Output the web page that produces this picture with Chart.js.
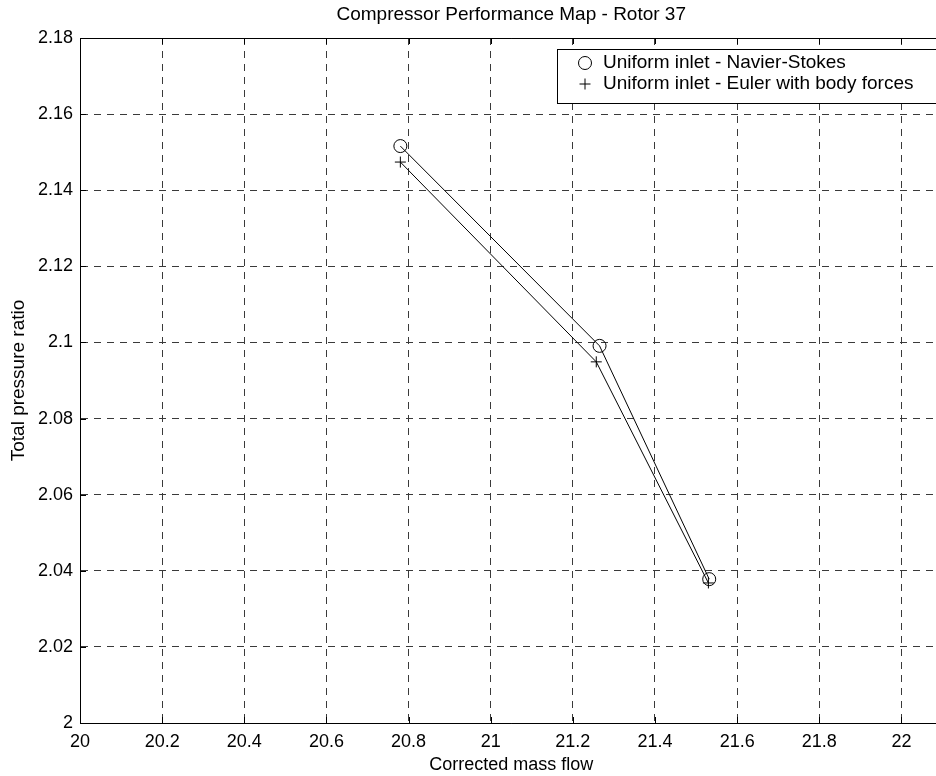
<!DOCTYPE html>
<html lang="en">
<head>
<meta charset="UTF-8">
<title>Compressor Performance Map - Rotor 37</title>
<script src="https://cdn.jsdelivr.net/npm/chart.js"></script>
<style>
  html, body { margin:0; padding:0; background:#fff; overflow:hidden; }
  #wrap { width:950px; height:776px; }
</style>
</head>
<body>
<div id="wrap"><canvas id="perf-map" width="950" height="776"></canvas></div>
<script>
// data
const nsFlow = [20.78, 21.265, 21.532];
const nsPressure = [2.1516, 2.0991, 2.0378];
const eulerFlow = [20.78, 21.257, 21.53];
const eulerPressure = [2.1474, 2.0949, 2.0368];

const xTicks = [20, 20.2, 20.4, 20.6, 20.8, 21, 21.2, 21.4, 21.6, 21.8, 22];
const yTicks = [2, 2.02, 2.04, 2.06, 2.08, 2.1, 2.12, 2.14, 2.16, 2.18];

const FONT = 'Liberation Sans, Arial, Helvetica, sans-serif';

// title, top border, inward ticks and the boxed legend
const frame = {
    id: 'frame',
    afterDraw(chart) {
        const { ctx, chartArea: a, scales } = chart;
        ctx.save();
        ctx.fillStyle = '#000';
        ctx.font = '19px ' + FONT;
        ctx.textAlign = 'center';
        ctx.textBaseline = 'middle';
        ctx.fillText('Compressor Performance Map - Rotor 37', (a.left + a.right) / 2, 15);

        ctx.strokeStyle = '#000';
        ctx.lineWidth = 1;
        ctx.beginPath();
        ctx.moveTo(a.left, a.top + 0.5);
        ctx.lineTo(a.right, a.top + 0.5);
        const t = 6;
        xTicks.forEach(v => {
            const x = Math.round(scales.x.getPixelForValue(v)) + 0.5;
            ctx.moveTo(x, a.bottom); ctx.lineTo(x, a.bottom - t);
            ctx.moveTo(x, a.top); ctx.lineTo(x, a.top + t);
        });
        yTicks.forEach(v => {
            const y = Math.round(scales.y.getPixelForValue(v)) + 0.5;
            ctx.moveTo(a.left, y); ctx.lineTo(a.left + t, y);
        });
        ctx.stroke();

        // legend
        const lx = 557, ly = 49, lh = 54;
        ctx.fillStyle = '#fff';
        ctx.fillRect(lx, ly, a.right - 4 - lx, lh);
        ctx.strokeRect(lx + 0.5, ly + 0.5, a.right - 4 - lx, lh);
        ctx.fillStyle = '#000';
        ctx.font = '19px ' + FONT;
        ctx.textAlign = 'left';
        const rows = [63, 84];
        chart.data.datasets.forEach((ds, i) => {
            const y = rows[i], mx = 585;
            ctx.beginPath();
            if (ds.pointStyle === 'circle') {
                ctx.arc(mx, y, ds.pointRadius, 0, Math.PI * 2);
            } else {
                ctx.moveTo(mx - ds.pointRadius, y); ctx.lineTo(mx + ds.pointRadius, y);
                ctx.moveTo(mx, y - ds.pointRadius); ctx.lineTo(mx, y + ds.pointRadius);
            }
            ctx.stroke();
            ctx.fillText(ds.label, 603, y);
        });
        ctx.restore();
    }
};

new Chart(document.getElementById('perf-map'), {
    type: 'scatter',
    data: {
        datasets: [
            {
                label: 'Uniform inlet - Navier-Stokes',
                data: nsFlow.map((x, i) => ({ x, y: nsPressure[i] })),
                showLine: true,
                borderColor: '#000',
                borderWidth: 1,
                pointStyle: 'circle',
                pointRadius: 6.5,
                pointBorderColor: '#000',
                pointBackgroundColor: 'rgba(0,0,0,0)',
                pointBorderWidth: 1
            },
            {
                label: 'Uniform inlet - Euler with body forces',
                data: eulerFlow.map((x, i) => ({ x, y: eulerPressure[i] })),
                showLine: true,
                borderColor: '#000',
                borderWidth: 1,
                pointStyle: 'cross',
                pointRadius: 5.5,
                pointBorderColor: '#000',
                pointBorderWidth: 1
            }
        ]
    },
    options: {
        responsive: false,
        animation: false,
        layout: { padding: { top: 38, right: 5, left: 0, bottom: 0 } },
        plugins: { legend: { display: false }, tooltip: { enabled: false } },
        scales: {
            x: {
                type: 'linear',
                min: 20, max: 22.1,
                afterBuildTicks: s => { s.ticks = xTicks.map(v => ({ value: v })); },
                afterFit: s => { s.height = 53; },
                ticks: { color: '#000', font: { family: FONT, size: 18 }, padding: 8,
                         maxRotation: 0, autoSkip: false, callback: v => String(+v.toFixed(1)) },
                grid: { color: '#3a3a3a', lineWidth: 1, drawTicks: false },
                border: { display: true, color: '#000', width: 1, dash: [7, 6] },
                title: { display: true, text: 'Corrected mass flow', color: '#000',
                         font: { family: FONT, size: 18 }, padding: { top: 0, bottom: 0 } }
            },
            y: {
                type: 'linear',
                min: 2, max: 2.18,
                afterBuildTicks: s => { s.ticks = yTicks.map(v => ({ value: v })); },
                afterFit: s => { s.width = 80; },
                ticks: { color: '#000', font: { family: FONT, size: 18 }, padding: 7,
                         autoSkip: false, callback: v => String(+v.toFixed(2)) },
                grid: { color: '#3a3a3a', lineWidth: 1, drawTicks: false },
                border: { display: true, color: '#000', width: 1, dash: [7, 6] },
                title: { display: true, text: 'Total pressure ratio', color: '#000',
                         font: { family: FONT, size: 19 }, padding: { top: 7, bottom: 0 } }
            }
        }
    },
    plugins: [frame]
});
</script>
</body>
</html>
